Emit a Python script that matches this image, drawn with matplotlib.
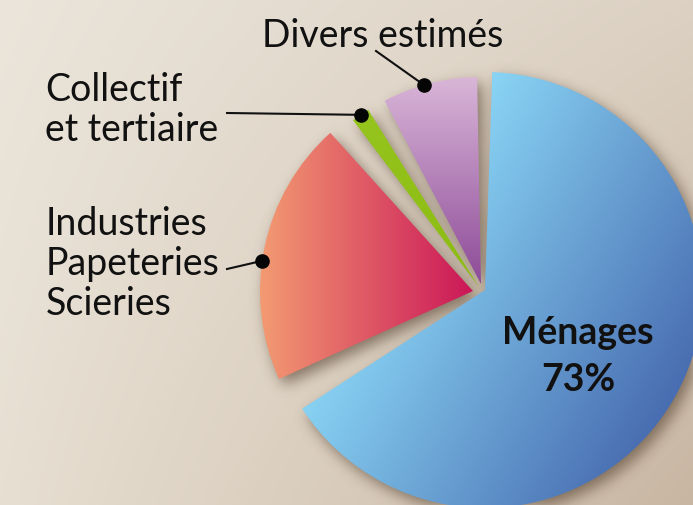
import numpy as np
import matplotlib.pyplot as plt
from matplotlib.patches import Wedge
from matplotlib.colors import to_rgb

W, H = 693, 506

# ---- Data: slices in drawing order (counter-clockwise), share of circle as drawn (%) ----
labels = ["Ménages", "Divers estimés", "Collectif\net tertiaire", "Industries\nPapeteries\nScieries"]
shares = [65.3, 7.4, 1.4, 20.1]
gaps = [3.0, 4.3, 5.0, 8.6]          # blank degrees after each slice
start_angle = -147.0
menages_pct = "73%"

# ---- Style ----
centers = [(485, 291), (481, 285), (479, 288), (473, 292)]   # image px (y down)
radii = [218, 207, 209, 213]
gradients = [
    ((400, 246), (718, 435), "#88d2f3", "#3d5ba5"),
    ((480, 78), (480, 285), "#d9b6d8", "#8d4b98"),
    ((479, 110), (479, 288), "#95c51e", "#8cbc12"),
    ((260, 290), (473, 290), "#f39b72", "#cb1658"),
]
label_pos = [None, (262, 47), (45, 101), (46, 235)]          # first baseline, image px
leader_start = [None, (376, 52), (227, 114), (227, 270)]
anchor_frac = [0.5, 0.56, 0.5, 0.55]
line_gap = 40

# ---- Slice angles ----
thetas = []
a = start_angle
for s, g in zip(shares, gaps):
    thetas.append((a, a + s * 3.6))
    a += s * 3.6 + g

X, Y = np.meshgrid(np.arange(W) + 0.5, np.arange(H) + 0.5)   # y up


def gradient(p0, p1, c0, c1):
    x0, y0 = p0[0], H - p0[1]
    x1, y1 = p1[0], H - p1[1]
    d = np.array([x1 - x0, y1 - y0], float)
    t = ((X - x0) * d[0] + (Y - y0) * d[1]) / (d @ d)
    t = np.clip(t, 0, 1)[..., None]
    return (1 - t) * np.array(to_rgb(c0)) + t * np.array(to_rgb(c1))


def blur(arr, sigma):
    k = np.arange(-3 * sigma, 3 * sigma + 1)
    k = np.exp(-k ** 2 / (2.0 * sigma ** 2))
    k /= k.sum()
    arr = np.apply_along_axis(lambda r: np.convolve(r, k, mode="same"), 1, arr)
    arr = np.apply_along_axis(lambda c: np.convolve(c, k, mode="same"), 0, arr)
    return arr


fig = plt.figure(figsize=(6.93, 5.06), dpi=100)
ax = fig.add_axes([0, 0, 1, 1])
ax.set_xlim(0, W)
ax.set_ylim(0, H)
ax.axis("off")

# ---- Background ----
u = (X / W)[..., None]
v = (Y / H)[..., None]
tl, tr, bl, br = [np.array(to_rgb(c)) for c in ("#ebe5db", "#dcd1c3", "#e7dfd2", "#c8b6a2")]
bg = (1 - u) * (v * tl + (1 - v) * bl) + u * (v * tr + (1 - v) * br)
ax.imshow(bg, origin="lower", extent=(0, W, 0, H), zorder=0, aspect="auto")

# ---- Drop shadow ----
mask = np.zeros((H, W))
for (cx, cy), r, (t1, t2) in zip(centers, radii, thetas):
    cy = H - cy
    ang = np.degrees(np.arctan2(Y - cy, X - cx))
    inside = (np.hypot(X - cx, Y - cy) <= r) & (((ang - t1) % 360) <= (t2 - t1))
    mask = np.maximum(mask, inside.astype(float))
sx, sy = 5, 6
shifted = np.zeros_like(mask)
shifted[:-sy, sx:] = mask[sy:, :-sx]
shadow = blur(shifted, 7)
sh = np.zeros((H, W, 4))
sh[..., :3] = to_rgb("#5a4634")
sh[..., 3] = 0.66 * shadow
ax.imshow(sh, origin="lower", extent=(0, W, 0, H), zorder=1, aspect="auto")

# ---- Slices with gradient fills ----
for (cx, cy), r, (t1, t2), (p0, p1, c0, c1) in zip(centers, radii, thetas, gradients):
    w = Wedge((cx, H - cy), r, t1, t2, facecolor="none", edgecolor="none")
    ax.add_patch(w)
    im = ax.imshow(gradient(p0, p1, c0, c1), origin="lower", extent=(0, W, 0, H),
                   zorder=2, aspect="auto")
    im.set_clip_path(w)

# ---- Labels and leaders ----
font = ["Lato", "DejaVu Sans"]
for i in range(1, len(labels)):
    x0, y0 = label_pos[i]
    for j, line in enumerate(labels[i].split("\n")):
        ax.text(x0, H - (y0 + j * line_gap), line, fontsize=27, family=font,
                ha="left", va="baseline", color="#111111", zorder=5)
    (cx, cy), r, (t1, t2) = centers[i], radii[i], thetas[i]
    mid = np.radians(t1 + anchor_frac[i] * (t2 - t1))
    dot = (cx + r * np.cos(mid), H - cy + r * np.sin(mid))
    lx, ly = leader_start[i]
    ax.plot([lx, dot[0]], [H - ly, dot[1]], color="#111111", lw=1.5, zorder=4)
    ax.plot(dot[0], dot[1], "o", color="#050505", ms=9.5, zorder=4)

ax.text(578, H - 344, labels[0], fontsize=27, family=font, weight="bold",
        ha="center", va="baseline", color="#111111", zorder=5)
ax.text(578, H - 391, menages_pct, fontsize=27, family=font, weight="bold",
        ha="center", va="baseline", color="#111111", zorder=5)

fig.savefig("out.png", dpi=100)
